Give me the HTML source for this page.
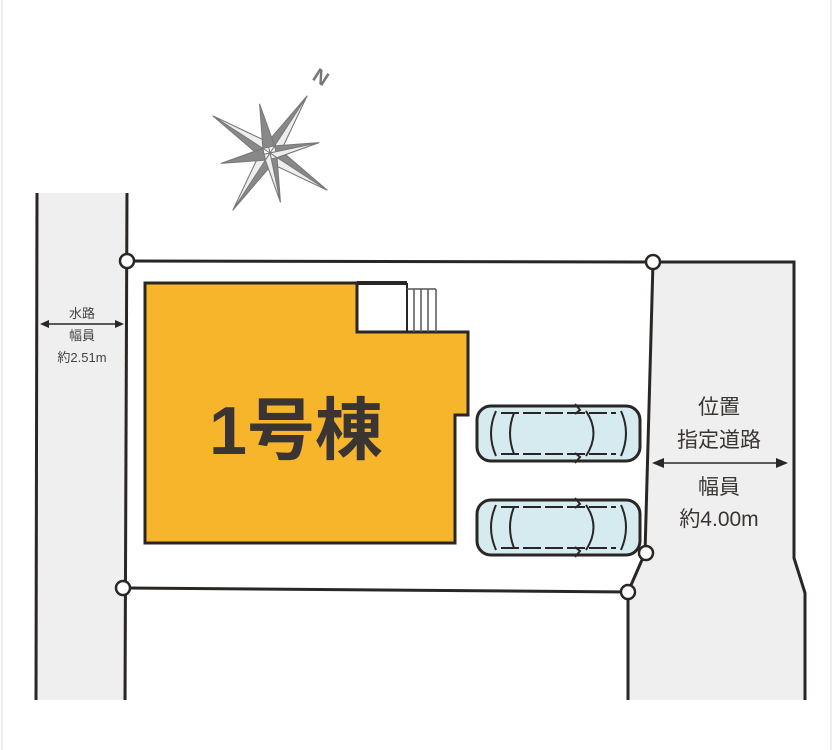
<!DOCTYPE html>
<html><head><meta charset="utf-8"><style>
html,body{margin:0;padding:0;background:#fff;}
svg{display:block;}
text{font-family:"Liberation Sans","Noto Sans CJK JP",sans-serif;}
</style></head><body>
<svg width="834" height="750" viewBox="0 0 834 750" xmlns="http://www.w3.org/2000/svg">
<defs>
<g id="car">
<rect x="1" y="1" width="163" height="55" rx="14" fill="#d5ebef" stroke="#2a2624" stroke-width="3"/>
<path d="M20 6 Q10 28 20 51" fill="none" stroke="#2a2624" stroke-width="2"/>
<path d="M38 8 Q30 28 38 49" fill="none" stroke="#2a2624" stroke-width="2"/>
<path d="M110 6 Q125 28 110 51" fill="none" stroke="#2a2624" stroke-width="2"/>
<path d="M145 6 Q155 28 145 51" fill="none" stroke="#2a2624" stroke-width="2"/>
<path d="M25 8 L140 8 M25 49 L140 49" stroke="#2a2624" stroke-width="2" stroke-dasharray="18 4"/>
<path d="M99 -1 L104 5 L99 9 M99 58 L104 52 L99 48" fill="none" stroke="#2a2624" stroke-width="2"/>
</g>
</defs>
<line x1="2" y1="0" x2="2" y2="750" stroke="#ddd" stroke-width="1"/>
<line x1="831" y1="0" x2="831" y2="750" stroke="#ddd" stroke-width="1"/>
<rect x="37" y="193" width="90" height="507" fill="#efefef"/>
<line x1="37" y1="193" x2="36" y2="700" stroke="#2a2624" stroke-width="3"/>
<line x1="127" y1="193" x2="125" y2="700" stroke="#2a2624" stroke-width="3"/>
<polygon points="653,262 794,262 794,558 805,593 805,700 628,700 628,592 645,553" fill="#efefef"/>
<polyline points="653,262 794,262 794,558 805,593 805,700" fill="none" stroke="#2a2624" stroke-width="3"/>
<polyline points="653,262 645,553 628,592 628,700" fill="none" stroke="#2a2624" stroke-width="3"/>
<line x1="127" y1="261" x2="653" y2="262" stroke="#2a2624" stroke-width="3"/>
<line x1="123" y1="588" x2="628" y2="592" stroke="#2a2624" stroke-width="3"/>
<polygon points="145,283 357,283 357,332 468,332 468,415 455,415 455,543 145,543" fill="#f7b52b" stroke="#2a2624" stroke-width="3"/>
<line x1="357" y1="283" x2="407" y2="283" stroke="#2a2624" stroke-width="4"/>
<line x1="407" y1="283" x2="407" y2="332" stroke="#2a2624" stroke-width="2"/>
<path d="M414 289V332 M421 289V332 M428 289V332 M436 289V332 M407 289H436" stroke="#555" stroke-width="1.5" fill="none"/>
<text x="296" y="454" font-size="68" font-weight="bold" fill="#3a3533" text-anchor="middle">1号棟</text>
<use href="#car" x="476" y="405"/>
<use href="#car" x="476" y="499"/>
<g fill="#fff" stroke="#2a2624" stroke-width="2.5">
<circle cx="127" cy="261" r="7"/><circle cx="653" cy="262" r="7"/>
<circle cx="646" cy="553" r="7"/><circle cx="628" cy="592" r="7"/><circle cx="123" cy="588" r="7"/>
</g>
<line x1="42" y1="324" x2="122" y2="324" stroke="#2a2624" stroke-width="1.5"/>
<path d="M40 324 L49 320 L49 328Z M124 324 L115 320 L115 328Z" fill="#2a2624"/>
<g font-size="13" fill="#444" text-anchor="middle">
<text x="82" y="318">水路</text><text x="82" y="340">幅員</text><text x="82" y="362">約2.51m</text>
</g>
<line x1="654" y1="463" x2="786" y2="463" stroke="#2a2624" stroke-width="1.5"/>
<path d="M652 463 L664 458 L664 468Z M788 463 L776 458 L776 468Z" fill="#2a2624"/>
<g font-size="21" fill="#3a3533" text-anchor="middle">
<text x="719" y="414">位置</text><text x="719" y="447">指定道路</text>
<text x="719" y="494">幅員</text><text x="719" y="526">約4.00m</text>
</g>
<g transform="translate(270,153) rotate(33)" stroke="#777" stroke-width="1" stroke-linejoin="round">
<g fill="#888">
<polygon points="0,-68 8,-8 -8,-8"/><polygon points="0,68 8,8 -8,8"/>
<polygon points="-68,0 -8,-8 -8,8"/><polygon points="68,0 8,-8 8,8"/>
</g>
<g fill="#eee">
<polygon points="0,-68 8,-8 0,0"/><polygon points="0,68 -8,8 0,0"/>
<polygon points="-68,0 -8,-8 0,0"/><polygon points="68,0 8,8 0,0"/>
</g>
<g transform="rotate(45)">
<polygon points="0,-50 6,-6 -6,-6" fill="#888"/><polygon points="0,50 6,6 -6,6" fill="#888"/>
<polygon points="-50,0 -6,-6 -6,6" fill="#888"/><polygon points="50,0 6,-6 6,6" fill="#888"/>
<polygon points="0,-50 6,-6 0,0" fill="#eee"/><polygon points="50,0 6,6 0,0" fill="#eee"/>
</g>
</g>
<text x="321" y="84" font-size="20" font-weight="bold" fill="#777" text-anchor="middle" transform="rotate(33 321 77)">N</text>
</svg>
</body></html>
